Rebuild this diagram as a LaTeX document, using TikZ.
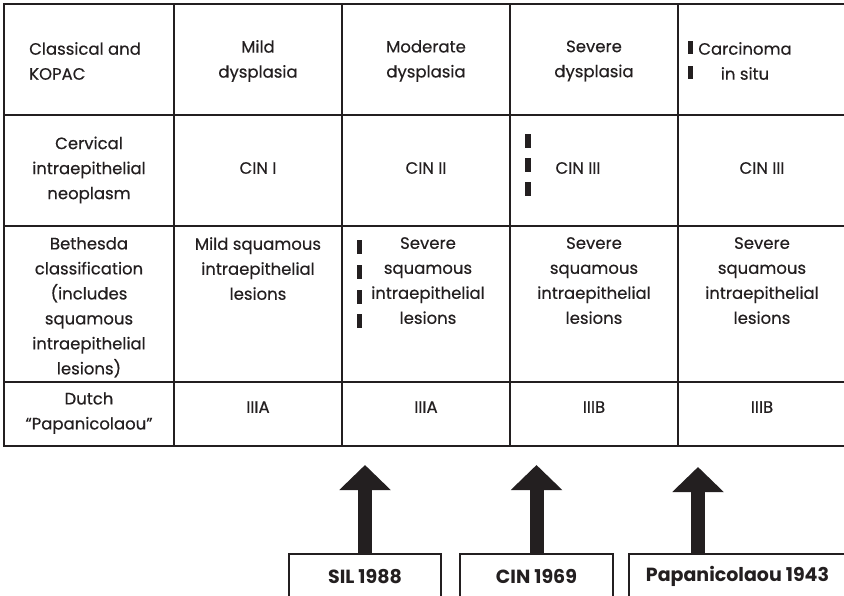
\documentclass[tikz,border=0pt]{standalone}
\usepackage{fontspec}
\setmainfont{Poppins}
\usetikzlibrary{arrows.meta,positioning}
\definecolor{ink}{HTML}{231F20}
\tikzset{
  cell/.style={align=center, inner sep=0pt, text=ink,
    font=\fontsize{16.5}{25}\selectfont\addfontfeature{FakeBold=0.4}},
  bar/.style={fill=ink},
  grid/.style={draw=ink, line width=2pt},
  yearbox/.style={draw=ink, line width=1.5pt, anchor=north, minimum height=46, inner sep=0pt, text=ink,
    font=\bfseries\fontsize{19}{20}\selectfont},
  fatarrow/.style={draw=ink, line width=14pt, -{Triangle[width=50pt,length=25pt]}}
}
\begin{document}
\begin{tikzpicture}[x=1pt,y=-1pt]
  \clip (0,0) rectangle (844,595);
  \fill[white] (0,0) rectangle (844,595);

  % table grid
  \draw[grid] (4,4) rectangle (846,446);
  \foreach \x in {174,342,510,678}
    \draw[grid] (\x,4) -- (\x,446);
  \foreach \y in {115,226,382}
    \draw[grid] (4,\y) -- (846,\y);

  % row 1
  \node[cell, align=left, anchor=west] (classical) at (29,61) {Classical and\\KOPAC};
  \node[cell] (mild) at (258,61) {Mild\\dysplasia};
  \node[cell] (moderate) at (426,61) {Moderate\\dysplasia};
  \node[cell] (severe) at (594,61) {Severe\\dysplasia};
  \node[cell] (carcinoma) at (745,61) {Carcinoma\\in situ};
  \fill[bar] (688,41) rectangle (693,54);
  \fill[bar] (688,66) rectangle (693,79);

  % row 2
  \node[cell] (cervical) at (89,170) {Cervical\\intraepithelial\\neoplasm};
  \node[cell] (cinA) at (258,168) {CIN I};
  \node[cell] (cinB) at (426,168) {CIN II};
  \node[cell] (cinC) at (578,168) {CIN III};
  \node[cell] (cinD) at (762,168) {CIN III};
  \foreach \y in {134,158,182}
    \fill[bar] (525,\y) rectangle (531,\y+14);

  % row 3
  \node[cell, anchor=north] (bethesda) at (89,237) {Bethesda\\classification\\(includes\\squamous\\intraepithelial\\lesions)};
  \node[cell, anchor=north] (silA) at (258,237) {Mild squamous\\intraepithelial\\lesions};
  \node[cell, anchor=north] (silB) at (428,237) {Severe\\squamous\\intraepithelial\\lesions};
  \node[cell, anchor=north] (silC) at (594,237) {Severe\\squamous\\intraepithelial\\lesions};
  \node[cell, anchor=north] (silD) at (762,237) {Severe\\squamous\\intraepithelial\\lesions};
  \foreach \y in {240,265,290,314}
    \fill[bar] (357,\y) rectangle (362,\y+14);

  % row 4
  \node[cell] (dutch) at (89,413) {Dutch\\“Papanicolaou”};
  \node[cell] (papA) at (258,407) {IIIA};
  \node[cell] (papB) at (426,407) {IIIA};
  \node[cell] (papC) at (594,407) {IIIB};
  \node[cell] (papD) at (762,407) {IIIB};

  % year boxes
  \node[yearbox, minimum width=152] (sil) at (365,553) {SIL 1988};
  \node[yearbox, minimum width=153] (cin) at (536.5,553) {CIN 1969};
  \node[yearbox, minimum width=217] (pap) at (737.5,553) {Papanicolaou 1943};

  % arrows
  \coordinate (silTip) at (365,465);
  \coordinate (cinTip) at (536.5,465);
  \coordinate (papTip) at (698,467);
  \draw[fatarrow] (sil.north) -- (silTip);
  \draw[fatarrow] (cin.north) -- (cinTip);
  \draw[fatarrow] (papTip |- pap.north) -- (papTip);
\end{tikzpicture}
\end{document}
